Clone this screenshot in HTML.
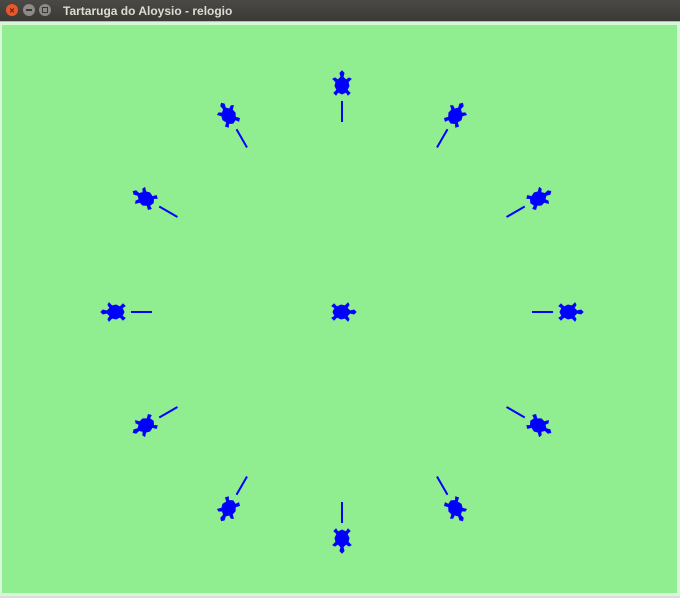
<!DOCTYPE html>
<html><head><meta charset="utf-8"><style>
html,body{margin:0;padding:0;width:680px;height:598px;overflow:hidden;background:#dcdcdc;}
svg{display:block}
</style></head><body>
<svg width="680" height="598" xmlns="http://www.w3.org/2000/svg">
<defs><linearGradient id="tb" x1="0" y1="0" x2="0" y2="1"><stop offset="0" stop-color="#4a4945"/><stop offset="1" stop-color="#3a3935"/></linearGradient></defs>
<rect x="0" y="0" width="680" height="22" fill="url(#tb)"/>
<rect x="0" y="21" width="680" height="1" fill="#b8b8b4"/>
<circle cx="12" cy="10" r="6" fill="#e9572d"/>
<text x="12" y="13.5" font-size="9" fill="#5a2010" text-anchor="middle" font-family="Liberation Sans, sans-serif" font-weight="bold">×</text>
<circle cx="29" cy="10" r="6" fill="#8c8b86"/>
<rect x="26" y="9" width="6" height="2" fill="#3a3935"/>
<circle cx="45" cy="10" r="6" fill="#8c8b86"/>
<rect x="42.5" y="7.5" width="5" height="5" fill="none" stroke="#3a3935" stroke-width="1"/>
<text x="63" y="15" font-size="12" font-weight="bold" fill="#dfdbd2" font-family="Liberation Sans, sans-serif">Tartaruga do Aloysio - relogio</text>
<rect x="0" y="22" width="680" height="574" fill="#d8f7d8"/>
<rect x="2" y="25" width="675" height="568" fill="#90ee90"/>
<g id="marks"></g>
</svg>
<script>
const hours = [12,1,2,3,4,5,6,7,8,9,10,11];
const turtleRadius = [225,225,225,225,225,225,225,225,225,225,225,225];
const tickInner = [190,190,190,190,190,190,190,190,190,190,190,190];
const tickOuter = [211,211,211,211,211,211,211,211,211,211,211,211];
const shape=[[0,16],[-2,14],[-1,10],[-4,7],[-7,9],[-9,8],[-6,5],[-7,1],[-5,-3],[-8,-6],[-6,-8],[-4,-5],[0,-7],[4,-5],[6,-8],[8,-6],[5,-3],[7,1],[6,5],[9,8],[7,9],[4,7],[1,10],[2,14]];
const cx=342, cy=312;
const g=document.getElementById('marks');
const NS='http://www.w3.org/2000/svg';
function ang(h){return h*30*Math.PI/180;}
function pt(h,r){const a=ang(h);return [cx+r*Math.sin(a), cy-r*Math.cos(a)];}
function turtle(x,y,a){
  // a: heading angle (radians, clockwise from up)
  const pts=shape.map(([sx,sy])=>{
    const px=x+sy*Math.sin(a)+sx*Math.cos(a);
    const py=y-sy*Math.cos(a)+sx*Math.sin(a);
    return px.toFixed(1)+','+py.toFixed(1);
  }).join(' ');
  const p=document.createElementNS(NS,'polygon');
  p.setAttribute('points',pts);p.setAttribute('fill','#0000ff');p.setAttribute('stroke','#0000ff');p.setAttribute('stroke-width','1');
  return p;
}
hours.forEach((h,i)=>{
  const [x1,y1]=pt(h,tickInner[i]),[x2,y2]=pt(h,tickOuter[i]);
  const l=document.createElementNS(NS,'line');
  l.setAttribute('x1',x1);l.setAttribute('y1',y1);l.setAttribute('x2',x2);l.setAttribute('y2',y2);
  l.setAttribute('stroke','#0000ff');l.setAttribute('stroke-width','2');
  
  
  g.appendChild(l);
  const [tx,ty]=pt(h,turtleRadius[i]);
  const t=turtle(tx,ty,ang(h));
  
  
  g.appendChild(t);
});
const c=turtle(cx-2,cy,Math.PI/2);


g.appendChild(c);
</script>
</body></html>
